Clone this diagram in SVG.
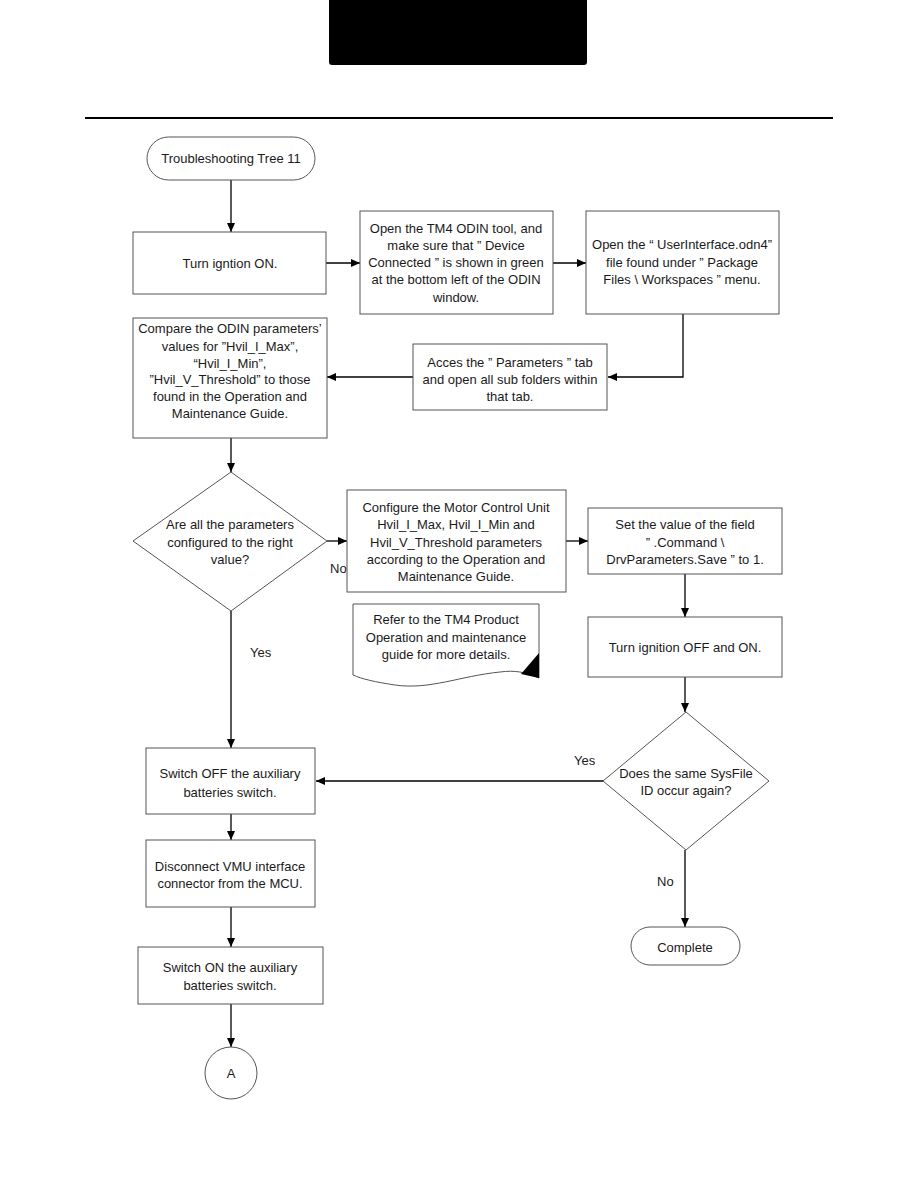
<svg xmlns="http://www.w3.org/2000/svg" width="918" height="1188" viewBox="0 0 918 1188">
<style>
.box{fill:#fff;stroke:#555;stroke-width:1}
.t{font-family:"Liberation Sans",Arial,sans-serif;font-size:13px;fill:#1a1a1a;text-anchor:middle;dominant-baseline:central}
.lbl{font-family:"Liberation Sans",Arial,sans-serif;font-size:13px;fill:#1a1a1a;dominant-baseline:central}
.c{fill:none;stroke:#000;stroke-width:1.3}
</style>
<defs>
<marker id="ah" markerWidth="10" markerHeight="10" refX="9" refY="5" orient="auto" markerUnits="userSpaceOnUse">
<path d="M0,1 L9,5 L0,9 Z" fill="#000"/>
</marker>
</defs>
<rect width="918" height="1188" fill="#fff"/>
<path d="M329,0 H587 V62 Q587,65 584,65 H332 Q329,65 329,62 Z" fill="#000"/>
<line x1="85" y1="118" x2="833" y2="118" stroke="#000" stroke-width="2"/>

<g id="connectors">
<line class="c" x1="231" y1="180" x2="231" y2="232" marker-end="url(#ah)"/>
<line class="c" x1="326" y1="263" x2="360" y2="263" marker-end="url(#ah)"/>
<line class="c" x1="553" y1="263" x2="586" y2="263" marker-end="url(#ah)"/>
<polyline class="c" points="683,314 683,377 608,377" marker-end="url(#ah)"/>
<line class="c" x1="413" y1="377" x2="327" y2="377" marker-end="url(#ah)"/>
<line class="c" x1="231" y1="438" x2="231" y2="472" marker-end="url(#ah)"/>
<line class="c" x1="327" y1="541" x2="347" y2="541" marker-end="url(#ah)"/>
<line class="c" x1="566" y1="541" x2="588" y2="541" marker-end="url(#ah)"/>
<line class="c" x1="685" y1="574" x2="685" y2="617" marker-end="url(#ah)"/>
<line class="c" x1="685" y1="677" x2="685" y2="712" marker-end="url(#ah)"/>
<line class="c" x1="603" y1="781" x2="316" y2="781" marker-end="url(#ah)"/>
<line class="c" x1="685" y1="850" x2="685" y2="927" marker-end="url(#ah)"/>
<line class="c" x1="231" y1="611" x2="231" y2="748" marker-end="url(#ah)"/>
<line class="c" x1="231" y1="814" x2="231" y2="840" marker-end="url(#ah)"/>
<line class="c" x1="231" y1="907" x2="231" y2="947" marker-end="url(#ah)"/>
<line class="c" x1="231" y1="1004" x2="231" y2="1047" marker-end="url(#ah)"/>
<text class="lbl" x="330" y="568">No</text>
<text class="lbl" x="250" y="652">Yes</text>
<text class="lbl" x="574" y="760">Yes</text>
<text class="lbl" x="657" y="881">No</text>
</g>

<g id="start">
<rect class="box" x="147" y="137" width="168" height="43" rx="21.5"/>
<text class="t" x="231" y="158">Troubleshooting Tree 11</text>
</g>
<g id="ignition-on">
<rect class="box" x="133" y="232" width="193" height="62"/>
<text class="t" x="230" y="263">Turn igntion ON.</text>
</g>
<g id="open-odin">
<rect class="box" x="360" y="211" width="193" height="103"/>
<text class="t" x="456" y="228">Open the TM4 ODIN tool, and</text>
<text class="t" x="456" y="245">make sure that ” Device</text>
<text class="t" x="456" y="262">Connected ” is shown in green</text>
<text class="t" x="456" y="279">at the bottom left of the ODIN</text>
<text class="t" x="456" y="297">window.</text>
</g>
<g id="open-ui">
<rect class="box" x="586" y="211" width="193" height="103"/>
<text class="t" x="682" y="244">Open the “ UserInterface.odn4”</text>
<text class="t" x="682" y="262">file found under ” Package</text>
<text class="t" x="682" y="279">Files \ Workspaces ” menu.</text>
</g>
<g id="params-tab">
<rect class="box" x="413" y="344" width="194" height="66"/>
<text class="t" x="510" y="362">Acces the ” Parameters ” tab</text>
<text class="t" x="510" y="379">and open all sub folders within</text>
<text class="t" x="510" y="396">that tab.</text>
</g>
<g id="compare">
<rect class="box" x="133" y="318" width="194" height="120"/>
<text class="t" x="230" y="328">Compare the ODIN parameters’</text>
<text class="t" x="230" y="346">values for ”Hvil_I_Max”,</text>
<text class="t" x="230" y="363">“Hvil_I_Min”,</text>
<text class="t" x="230" y="379">”Hvil_V_Threshold” to those</text>
<text class="t" x="230" y="396">found in the Operation and</text>
<text class="t" x="230" y="413">Maintenance Guide.</text>
</g>
<g id="decision-params">
<polygon class="box" points="231,472 327,541 231,611 133,541"/>
<text class="t" x="230" y="524">Are all the parameters</text>
<text class="t" x="230" y="542">configured to the right</text>
<text class="t" x="230" y="559">value?</text>
</g>
<g id="configure">
<rect class="box" x="347" y="490" width="219" height="102"/>
<text class="t" x="456" y="507">Configure the Motor Control Unit</text>
<text class="t" x="456" y="524">Hvil_I_Max, Hvil_I_Min and</text>
<text class="t" x="456" y="542">Hvil_V_Threshold parameters</text>
<text class="t" x="456" y="559">according to the Operation and</text>
<text class="t" x="456" y="576">Maintenance Guide.</text>
</g>
<g id="set-value">
<rect class="box" x="588" y="508" width="194" height="66"/>
<text class="t" x="685" y="524">Set the value of the field</text>
<text class="t" x="685" y="542">” .Command \</text>
<text class="t" x="685" y="559">DrvParameters.Save ” to 1.</text>
</g>
<g id="note">
<path class="box" d="M353,604 H539 V678 C525,672 515,670 500,672 C460,676 430,690 395,685 C375,682 362,679 353,675 Z"/>
<polygon points="539,653 539,678 521,674" fill="#000"/>
<text class="t" x="446" y="619">Refer to the TM4 Product</text>
<text class="t" x="446" y="637">Operation and maintenance</text>
<text class="t" x="446" y="654">guide for more details.</text>
</g>
<g id="ignition-off-on">
<rect class="box" x="588" y="617" width="194" height="60"/>
<text class="t" x="685" y="647">Turn ignition OFF and ON.</text>
</g>
<g id="decision-sysfile">
<polygon class="box" points="686,712 769,781 686,850 603,781"/>
<text class="t" x="686" y="773">Does the same SysFile</text>
<text class="t" x="686" y="790">ID occur again?</text>
</g>
<g id="complete">
<rect class="box" x="631" y="927" width="109" height="38" rx="19"/>
<text class="t" x="685" y="947">Complete</text>
</g>
<g id="switch-off">
<rect class="box" x="146" y="748" width="169" height="66"/>
<text class="t" x="230" y="773">Switch OFF the auxiliary</text>
<text class="t" x="230" y="792">batteries switch.</text>
</g>
<g id="disconnect">
<rect class="box" x="146" y="840" width="169" height="67"/>
<text class="t" x="230" y="866">Disconnect VMU interface</text>
<text class="t" x="230" y="883">connector from the MCU.</text>
</g>
<g id="switch-on">
<rect class="box" x="138" y="947" width="185" height="57"/>
<text class="t" x="230" y="967">Switch ON the auxiliary</text>
<text class="t" x="230" y="985">batteries switch.</text>
</g>
<g id="connector-a">
<circle class="box" cx="231" cy="1073" r="26"/>
<text class="t" x="231" y="1073">A</text>
</g>
</svg>
